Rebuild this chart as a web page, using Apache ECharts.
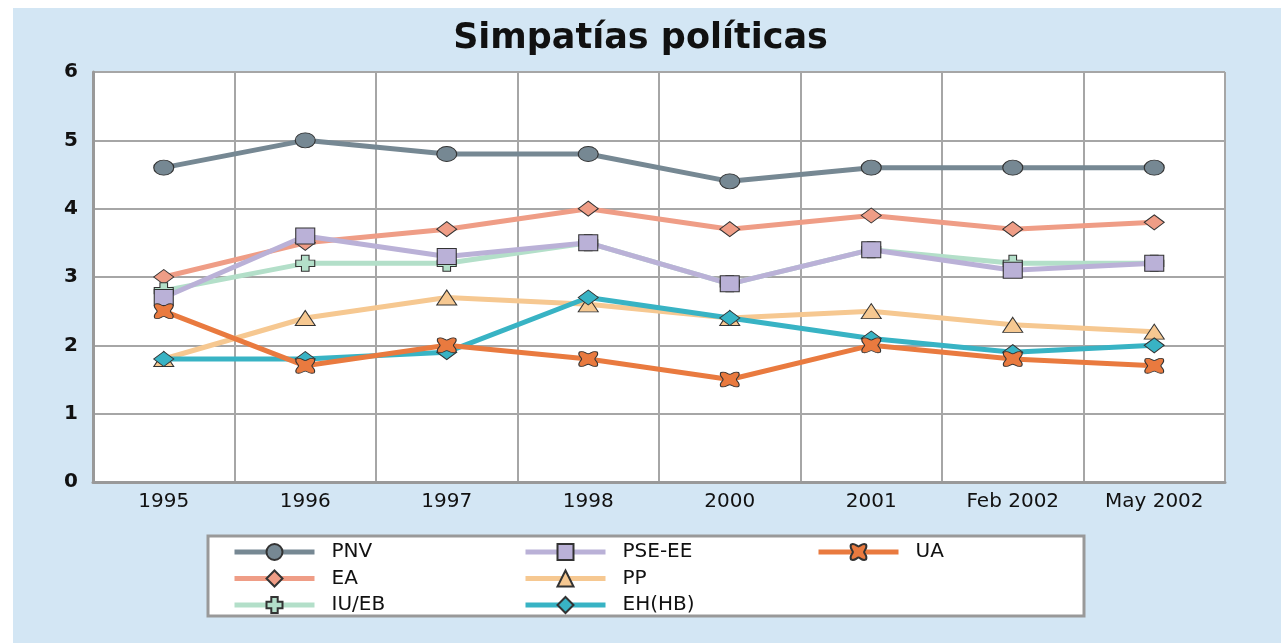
<!DOCTYPE html>
<html>
<head>
<meta charset="utf-8">
<script src="https://cdn.jsdelivr.net/npm/echarts@6/dist/echarts.min.js"></script>
<style>
  html, body { margin: 0; padding: 0; background: #fff; }
  #chart { width: 1281px; height: 643px; }
</style>
</head>
<body>
<div id="chart"></div>
<script>
// datos
var years = ['1995', '1996', '1997', '1998', '2000', '2001', 'Feb 2002', 'May 2002'];
var pnv   = [4.6, 5.0, 4.8, 4.8, 4.4, 4.6, 4.6, 4.6];
var ea    = [3.0, 3.5, 3.7, 4.0, 3.7, 3.9, 3.7, 3.8];
var iueb  = [2.8, 3.2, 3.2, 3.5, 2.9, 3.4, 3.2, 3.2];
var pseee = [2.7, 3.6, 3.3, 3.5, 2.9, 3.4, 3.1, 3.2];
var pp    = [1.8, 2.4, 2.7, 2.6, 2.4, 2.5, 2.3, 2.2];
var ehhb  = [1.8, 1.8, 1.9, 2.7, 2.4, 2.1, 1.9, 2.0];
var ua    = [2.5, 1.7, 2.0, 1.8, 1.5, 2.0, 1.8, 1.7];
var yTicks = [0, 1, 2, 3, 4, 5, 6];

var chart = echarts.init(document.getElementById('chart'));

var uaShape = 'path://M1,1 C3,0 4,2 5,2 C6,2 7,0 9,1 C10,3 8,4 8,5 C8,6 10,7 9,9 C7,10 6,8 5,8 C4,8 3,10 1,9 C0,7 2,6 2,5 C2,4 0,3 1,1 Z';
var plusShape = 'path://M3,0 L7,0 L7,3 L10,3 L10,7 L7,7 L7,10 L3,10 L3,7 L0,7 L0,3 L3,3 Z';

function linea(name, data, color, symbol, size) {
  return {
    name: name,
    type: 'line',
    data: data,
    symbol: symbol,
    symbolSize: size,
    showAllSymbol: true,
    lineStyle: { color: color, width: 5 },
    itemStyle: { color: color, borderColor: '#333', borderWidth: 1 },
    emphasis: { disabled: true },
    animation: false
  };
}

var legendText = {
  fontFamily: 'DejaVu Sans',
  fontSize: 20,
  color: '#111',
  padding: [0, 0, 0, 12]
};
function leyenda(left, names) {
  return {
    orient: 'vertical',
    left: left,
    top: 542,
    padding: 0,
    itemWidth: 80,
    itemHeight: 20,
    itemGap: 6.5,
    selectedMode: false,
    lineStyle: { width: 5 },
    textStyle: legendText,
    data: names
  };
}

chart.setOption({
  backgroundColor: '#fff',
  title: {
    text: 'Simpatías políticas',
    left: 'center',
    top: 16,
    textStyle: {
      fontFamily: 'DejaVu Sans',
      fontWeight: 'bold',
      fontSize: 35,
      color: '#111'
    }
  },
  graphic: [
    {
      type: 'rect', z: -10,
      shape: { x: 13, y: 8, width: 1268, height: 635 },
      style: { fill: '#d3e6f4' }
    },
    {
      type: 'rect', z: 1,
      shape: { x: 208, y: 536, width: 876, height: 80 },
      style: { fill: '#fff', stroke: '#999', lineWidth: 3 }
    }
  ],
  legend: [
    leyenda(232, ['PNV', 'EA', 'IU/EB']),
    leyenda(523, ['PSE-EE', 'PP', 'EH(HB)']),
    leyenda(816, ['UA'])
  ],
  grid: {
    left: 93,
    right: 56,
    top: 72,
    bottom: 161,
    show: true,
    backgroundColor: '#fff',
    borderWidth: 0
  },
  xAxis: {
    type: 'category',
    data: years,
    boundaryGap: true,
    axisLine: { lineStyle: { color: '#999', width: 3 } },
    axisTick: { show: false },
    axisLabel: {
      margin: 10,
      fontFamily: 'DejaVu Sans',
      fontSize: 20,
      color: '#111',
      interval: 0
    },
    splitLine: { show: true, lineStyle: { color: '#a6a6a6', width: 2 } }
  },
  yAxis: {
    type: 'value',
    min: yTicks[0],
    max: yTicks[yTicks.length - 1],
    interval: 1,
    axisLine: { show: true, lineStyle: { color: '#999', width: 3 } },
    axisTick: { show: false },
    axisLabel: {
      margin: 15,
      fontFamily: 'DejaVu Sans',
      fontWeight: 'bold',
      fontSize: 20,
      color: '#111'
    },
    splitLine: { show: true, lineStyle: { color: '#a6a6a6', width: 2 } }
  },
  series: [
    linea('PNV', pnv, '#768893', 'circle', [20, 15]),
    linea('EA', ea, '#ef9d86', 'diamond', [20, 15]),
    linea('IU/EB', iueb, '#b3dfc9', plusShape, [19, 16]),
    linea('PSE-EE', pseee, '#bab1d7', 'rect', [19, 16]),
    linea('PP', pp, '#f6c891', 'triangle', [20, 15]),
    linea('EH(HB)', ehhb, '#38b3c4', 'diamond', [20, 15]),
    linea('UA', ua, '#e97a3f', uaShape, [19, 15])
  ]
});
</script>
</body>
</html>
